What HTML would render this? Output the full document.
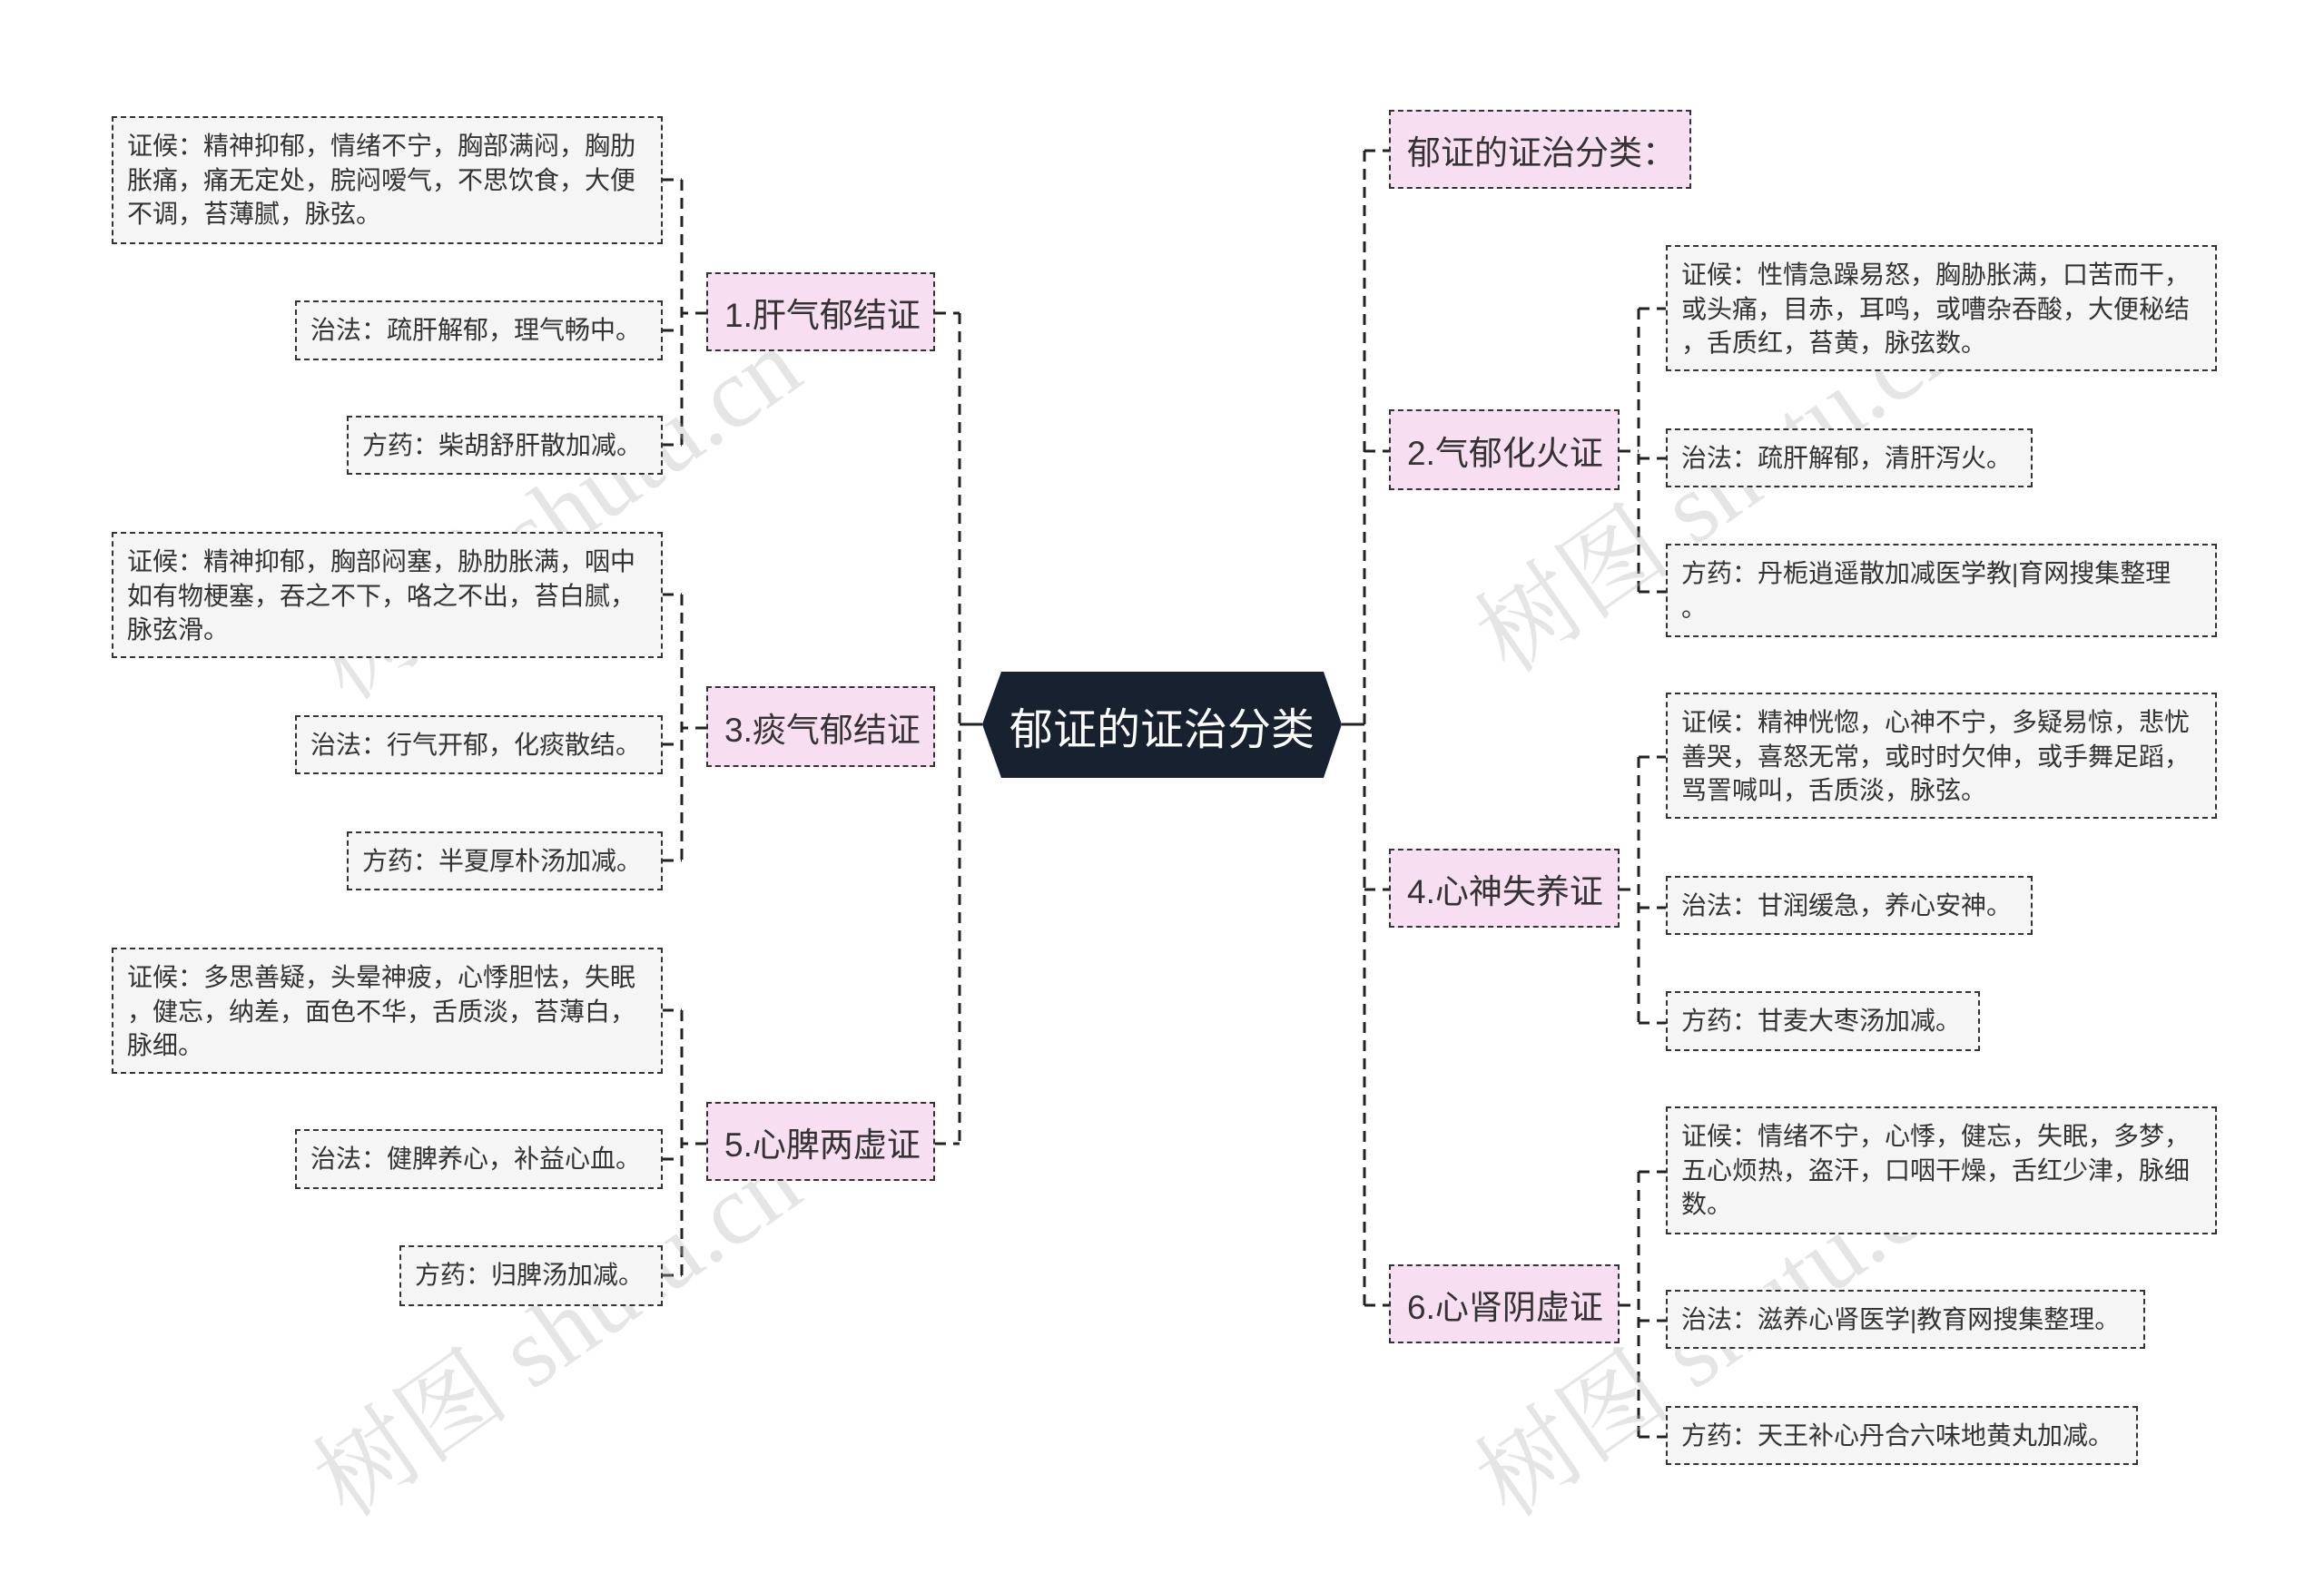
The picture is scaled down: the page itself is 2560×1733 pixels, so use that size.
<!DOCTYPE html>
<html><head><meta charset="utf-8"><style>
body{margin:0;width:2560px;height:1733px;background:#fff;position:relative;overflow:hidden;font-family:"Liberation Sans","Noto Sans CJK SC",sans-serif;}
.b{position:absolute;box-sizing:border-box;border:2.5px dashed #333;white-space:nowrap;color:#333;}
.leaf{background:#f5f5f5;font-size:28px;line-height:37.5px;padding:12px 15px;}
.l1{background:#f7def0;font-size:37px;display:flex;align-items:center;padding-left:18px;color:#333;}
.wm{position:absolute;font-size:110px;color:rgba(180,180,180,0.35);transform:rotate(-35deg);font-family:"Liberation Serif","Noto Serif CJK SC",serif;white-space:nowrap;}
svg{position:absolute;left:0;top:0}
</style></head><body>
<svg width="2560" height="1733" fill="none" stroke="#222" stroke-width="3" stroke-dasharray="12 8">
<path d="M1082 798 H1057" stroke-dasharray="none"/>
<path d="M1057 345 V1260"/>
<path d="M1030 345 H1057 M1030 1260 H1057"/>
<path d="M778 345 H751 M751 198 V490 M730 198 H751 M730 364 H751 M730 490 H751"/>
<path d="M778 802 H751 M751 655 V948 M730 655 H751 M730 820 H751 M730 948 H751"/>
<path d="M778 1260 H751 M751 1113 V1405 M730 1113 H751 M730 1277 H751 M730 1405 H751"/>
<path d="M1478 798 H1503" stroke-dasharray="none"/>
<path d="M1503 166 V1438"/>
<path d="M1503 166 H1530 M1503 497 H1530 M1503 980 H1530 M1503 1438 H1530"/>
<path d="M1784 497 H1805 M1805 340 V652 M1805 340 H1835 M1805 505 H1835 M1805 652 H1835"/>
<path d="M1784 980 H1805 M1805 834 V1127 M1805 834 H1835 M1805 1000 H1835 M1805 1127 H1835"/>
<path d="M1784 1438 H1805 M1805 1291 V1583 M1805 1291 H1835 M1805 1455 H1835 M1805 1583 H1835"/>
</svg>
<div class="wm" style="left:300px;top:480px">树图 shutu.cn</div>
<div class="wm" style="left:300px;top:1380px">树图 shutu.cn</div>
<div class="wm" style="left:1580px;top:450px">树图 shutu.cn</div>
<div class="wm" style="left:1580px;top:1380px">树图 shutu.cn</div>

<div style="position:absolute;left:1082px;top:740px;width:396px;height:117px;background:#17212f;clip-path:polygon(21px 0,376px 0,396px 58px,376px 117px,21px 117px,0 58px);color:#fff;font-size:48px;display:flex;align-items:center;justify-content:center;">郁证的证治分类</div>

<div class="b l1" style="left:778px;top:300px;width:252px;height:87px">1.肝气郁结证</div>
<div class="b l1" style="left:778px;top:756px;width:252px;height:89px">3.痰气郁结证</div>
<div class="b l1" style="left:778px;top:1214px;width:252px;height:87px">5.心脾两虚证</div>
<div class="b l1" style="left:1530px;top:121px;width:333px;height:87px">郁证的证治分类：</div>
<div class="b l1" style="left:1530px;top:451px;width:254px;height:89px">2.气郁化火证</div>
<div class="b l1" style="left:1530px;top:935px;width:254px;height:87px">4.心神失养证</div>
<div class="b l1" style="left:1530px;top:1393px;width:254px;height:87px">6.心肾阴虚证</div>

<div class="b leaf" style="left:123px;top:128px;width:607px;height:141px">证候：精神抑郁，情绪不宁，胸部满闷，胸肋<br>胀痛，痛无定处，脘闷嗳气，不思饮食，大便<br>不调，苔薄腻，脉弦。</div>
<div class="b leaf" style="left:325px;top:331px;width:405px;height:66px">治法：疏肝解郁，理气畅中。</div>
<div class="b leaf" style="left:382px;top:458px;width:348px;height:65px">方药：柴胡舒肝散加减。</div>
<div class="b leaf" style="left:123px;top:586px;width:607px;height:139px">证候：精神抑郁，胸部闷塞，胁肋胀满，咽中<br>如有物梗塞，吞之不下，咯之不出，苔白腻，<br>脉弦滑。</div>
<div class="b leaf" style="left:325px;top:788px;width:405px;height:65px">治法：行气开郁，化痰散结。</div>
<div class="b leaf" style="left:382px;top:916px;width:348px;height:65px">方药：半夏厚朴汤加减。</div>
<div class="b leaf" style="left:123px;top:1044px;width:607px;height:139px">证候：多思善疑，头晕神疲，心悸胆怯，失眠<br>，健忘，纳差，面色不华，舌质淡，苔薄白，<br>脉细。</div>
<div class="b leaf" style="left:325px;top:1244px;width:405px;height:66px">治法：健脾养心，补益心血。</div>
<div class="b leaf" style="left:440px;top:1372px;width:290px;height:67px">方药：归脾汤加减。</div>

<div class="b leaf" style="left:1835px;top:270px;width:607px;height:139px">证候：性情急躁易怒，胸胁胀满，口苦而干，<br>或头痛，目赤，耳鸣，或嘈杂吞酸，大便秘结<br>，舌质红，苔黄，脉弦数。</div>
<div class="b leaf" style="left:1835px;top:472px;width:404px;height:65px">治法：疏肝解郁，清肝泻火。</div>
<div class="b leaf" style="left:1835px;top:599px;width:607px;height:103px">方药：丹栀逍遥散加减医学教|育网搜集整理<br>。</div>
<div class="b leaf" style="left:1835px;top:763px;width:607px;height:139px">证候：精神恍惚，心神不宁，多疑易惊，悲忧<br>善哭，喜怒无常，或时时欠伸，或手舞足蹈，<br>骂詈喊叫，舌质淡，脉弦。</div>
<div class="b leaf" style="left:1835px;top:965px;width:404px;height:65px">治法：甘润缓急，养心安神。</div>
<div class="b leaf" style="left:1835px;top:1092px;width:346px;height:66px">方药：甘麦大枣汤加减。</div>
<div class="b leaf" style="left:1835px;top:1219px;width:607px;height:141px">证候：情绪不宁，心悸，健忘，失眠，多梦，<br>五心烦热，盗汗，口咽干燥，舌红少津，脉细<br>数。</div>
<div class="b leaf" style="left:1835px;top:1421px;width:528px;height:65px">治法：滋养心肾医学|教育网搜集整理。</div>
<div class="b leaf" style="left:1835px;top:1549px;width:520px;height:65px">方药：天王补心丹合六味地黄丸加减。</div>
</body></html>
